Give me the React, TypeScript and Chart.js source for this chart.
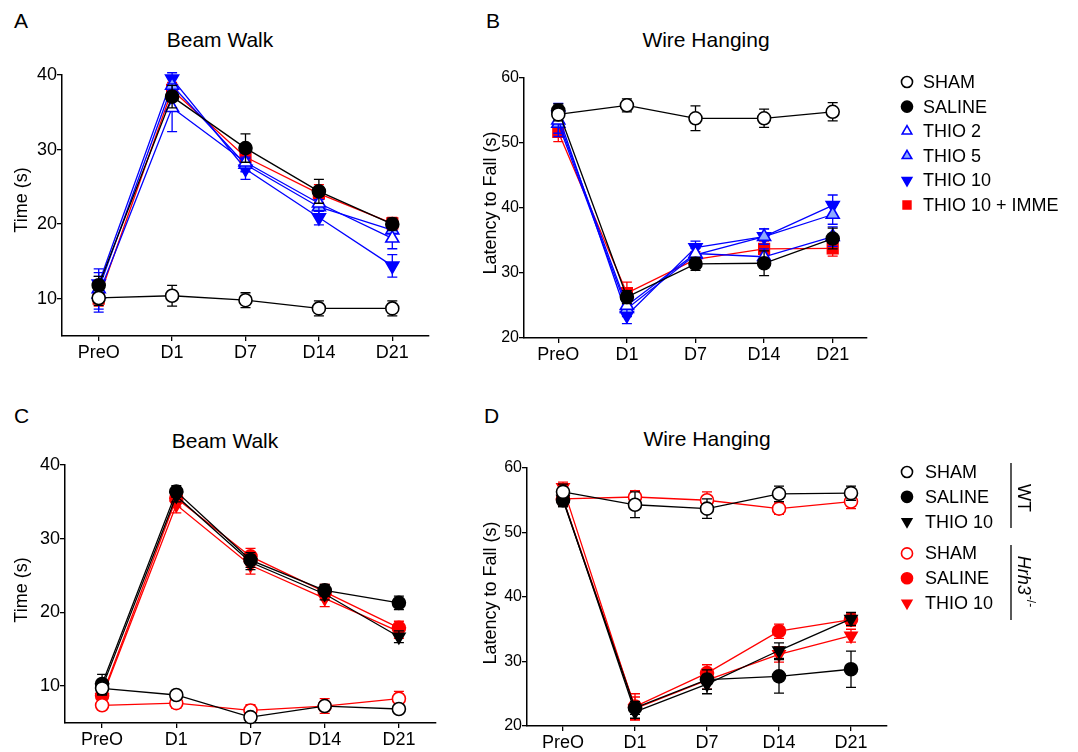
import React, { useEffect, useRef } from "react";
import { Chart, registerables } from "chart.js";

Chart.register(...registerables);

const FONT = "'Liberation Sans', Arial, Helvetica, sans-serif";
Chart.defaults.font.family = FONT;

const days = ["PreO", "D1", "D7", "D14", "D21"];
const yTicksBeam = [10, 20, 30, 40];
const yTicksWire = [20, 30, 40, 50, 60];

// Panel A — Beam Walk
const aSham = [10.1, 10.4, 9.8, 8.7, 8.7];
const aShamErr = [1.0, 1.4, 1.0, 1.0, 1.0];
const aSaline = [11.8, 37.1, 30.2, 24.4, 20.0];
const aSalineErr = [1.2, 1.5, 1.9, 1.6, 0.8];
const aThio2 = [10.6, 35.6, 28.3, 22.8, 18.1];
const aThio2Err = [2.4, 3.2, 1.2, 1.1, 1.4];
const aThio5 = [11.3, 38.6, 28.0, 22.3, 19.2];
const aThio5Err = [2.7, 1.2, 1.0, 1.0, 1.2];
const aThio10 = [12.0, 39.5, 27.4, 20.9, 14.4];
const aThio10Err = [1.5, 0.8, 1.4, 1.0, 1.5];
const aImme = [10.0, 38.0, 29.0, 24.1, 20.1];
const aImmeErr = [1.0, 1.0, 1.0, 1.2, 0.8];

// Panel B — Wire Hanging
const bSham = [54.4, 55.8, 53.8, 53.8, 54.8];
const bShamErr = [1.0, 1.0, 1.9, 1.4, 1.4];
const bSaline = [55.0, 26.3, 31.4, 31.5, 35.3];
const bSalineErr = [1.0, 1.0, 1.0, 1.9, 1.6];
const bThio2 = [53.5, 25.0, 33.0, 32.5, 35.6];
const bThio2Err = [2.0, 1.2, 1.2, 1.2, 1.5];
const bThio5 = [53.0, 24.5, 32.8, 35.6, 39.0];
const bThio5Err = [2.0, 1.2, 1.0, 1.2, 1.5];
const bThio10 = [54.3, 23.5, 33.9, 35.6, 40.4];
const bThio10Err = [1.8, 1.3, 1.0, 1.2, 1.6];
const bImme = [51.7, 26.9, 32.1, 33.7, 33.8];
const bImmeErr = [1.5, 1.7, 1.2, 1.2, 1.2];

// Panel C — Beam Walk (WT vs Hrh3-/-)
const cWtSham = [9.7, 8.8, 5.8, 7.3, 6.9];
const cWtShamErr = [0.8, 0.6, 0.5, 0.6, 0.4];
const cWtSaline = [10.3, 36.4, 27.1, 23.0, 21.3];
const cWtSalineErr = [1.3, 0.8, 1.0, 0.8, 0.9];
const cWtThio10 = [9.8, 35.8, 26.8, 22.5, 16.7];
const cWtThio10Err = [1.0, 0.8, 1.0, 0.8, 0.8];
const cKoSham = [7.4, 7.7, 6.7, 7.3, 8.3];
const cKoShamErr = [0.5, 0.7, 0.8, 1.0, 1.0];
const cKoSaline = [8.7, 35.5, 27.6, 22.8, 17.9];
const cKoSalineErr = [0.8, 1.2, 1.1, 1.0, 0.9];
const cKoThio10 = [8.5, 34.6, 26.4, 21.9, 17.4];
const cKoThio10Err = [0.8, 1.1, 1.2, 1.1, 0.9];

// Panel D — Wire Hanging (WT vs Hrh3-/-)
const dWtSham = [56.3, 54.3, 53.7, 56.0, 56.1];
const dWtShamErr = [1.2, 2.0, 1.5, 1.2, 1.1];
const dWtSaline = [55.0, 22.8, 27.2, 27.7, 28.8];
const dWtSalineErr = [1.0, 1.0, 1.5, 2.6, 2.8];
const dWtThio10 = [55.2, 22.2, 26.5, 31.7, 36.6];
const dWtThio10Err = [1.2, 1.0, 1.5, 1.2, 1.0];
const dKoSham = [55.2, 55.5, 55.0, 53.7, 54.8];
const dKoShamErr = [1.0, 1.0, 1.3, 0.9, 1.1];
const dKoSaline = [55.2, 23.0, 28.2, 34.7, 36.5];
const dKoSalineErr = [1.0, 2.0, 1.3, 1.1, 1.0];
const dKoThio10 = [57.0, 22.7, 27.1, 31.1, 34.0];
const dKoThio10Err = [0.8, 1.8, 1.4, 1.2, 1.0];

const BLACK = "#000000";
const BLUE = "#0000ff";
const RED = "#ff0000";
const LIGHTBLUE = "#8eaaff";
const WHITE = "#ffffff";

type Style = { shape: string; fill: string; stroke: string; r: number; rot?: number };

function makeDs(label: string, data: number[], err: number[], s: Style) {
  return {
    label,
    data,
    errorBars: err,
    borderColor: s.stroke,
    backgroundColor: s.fill,
    borderWidth: 1.3,
    pointStyle: s.shape,
    pointRotation: s.rot || 0,
    pointRadius: s.r,
    pointBorderWidth: 1.6,
    pointBackgroundColor: s.fill,
    pointBorderColor: s.stroke,
    fill: false,
    tension: 0,
    clip: false,
  };
}

const errorBarPlugin = {
  id: "errorBars",
  beforeDatasetDraw(chart: any, args: any) {
    const ds = chart.data.datasets[args.index];
    const errs = ds.errorBars;
    if (!errs) return;
    const ys = chart.scales.y;
    const ctx = chart.ctx;
    ctx.save();
    ctx.strokeStyle = ds.borderColor;
    ctx.lineWidth = 1.3;
    args.meta.data.forEach((pt: any, j: number) => {
      const v = ds.data[j];
      const e = errs[j];
      const x = pt.x;
      const y1 = ys.getPixelForValue(v + e);
      const y2 = ys.getPixelForValue(v - e);
      ctx.beginPath();
      ctx.moveTo(x, y1);
      ctx.lineTo(x, y2);
      ctx.moveTo(x - 5, y1);
      ctx.lineTo(x + 5, y1);
      ctx.moveTo(x - 5, y2);
      ctx.lineTo(x + 5, y2);
      ctx.stroke();
    });
    ctx.restore();
  },
};

function makeYTitlePlugin(text: string, x: number, y: number) {
  return {
    id: "yTitle",
    afterDraw(chart: any) {
      const ctx = chart.ctx;
      ctx.save();
      ctx.translate(x, y);
      ctx.rotate(-Math.PI / 2);
      ctx.font = `18px ${FONT}`;
      ctx.fillStyle = "#000";
      ctx.textAlign = "center";
      ctx.textBaseline = "middle";
      ctx.fillText(text, 0, 0);
      ctx.restore();
    },
  };
}

function drawMarker(ctx: CanvasRenderingContext2D, shape: string, x: number, y: number, r: number, fill: string, stroke: string, rot: number) {
  ctx.save();
  ctx.beginPath();
  if (shape === "circle") {
    ctx.arc(x, y, r, 0, Math.PI * 2);
  } else if (shape === "rect") {
    const s = r * Math.SQRT1_2;
    ctx.rect(x - s, y - s, 2 * s, 2 * s);
  } else if (shape === "triangle") {
    let a = (rot * Math.PI) / 180;
    for (let k = 0; k < 3; k++) {
      const px = x + Math.sin(a) * r;
      const py = y - Math.cos(a) * r;
      if (k === 0) ctx.moveTo(px, py);
      else ctx.lineTo(px, py);
      a += (2 * Math.PI) / 3;
    }
    ctx.closePath();
  }
  ctx.fillStyle = fill;
  ctx.fill();
  ctx.lineWidth = 1.6;
  ctx.strokeStyle = stroke;
  ctx.stroke();
  ctx.restore();
}

type LegendCfg = {
  markerX: number;
  textX: number;
  y0: number;
  step: number;
  gapAfter?: number;
  gap?: number;
  groups?: boolean;
};

function makeLegendPlugin(cfg: LegendCfg) {
  return {
    id: "customLegend",
    afterDraw(chart: any) {
      const ctx = chart.ctx;
      ctx.save();
      ctx.font = `18px ${FONT}`;
      ctx.fillStyle = "#000";
      ctx.textBaseline = "middle";
      ctx.textAlign = "left";
      chart.data.datasets.forEach((ds: any, i: number) => {
        const y = cfg.y0 + i * cfg.step + (cfg.gapAfter !== undefined && i > cfg.gapAfter ? cfg.gap || 0 : 0);
        drawMarker(ctx, ds.pointStyle, cfg.markerX, y, Math.min(ds.pointRadius, 6.5) * 0.85, ds.pointBackgroundColor, ds.pointBorderColor, ds.pointRotation);
        ctx.fillStyle = "#000";
        ctx.fillText(ds.label, cfg.textX, y + 1);
      });
      if (cfg.groups) {
        const lx = 541;
        ctx.strokeStyle = "#000";
        ctx.lineWidth = 1.3;
        ctx.beginPath();
        ctx.moveTo(lx, 23);
        ctx.lineTo(lx, 88);
        ctx.moveTo(lx, 105);
        ctx.lineTo(lx, 180);
        ctx.stroke();
        // WT
        ctx.save();
        ctx.translate(553, 58);
        ctx.rotate(Math.PI / 2);
        ctx.textAlign = "center";
        ctx.textBaseline = "middle";
        ctx.font = `18px ${FONT}`;
        ctx.fillText("WT", 0, 0);
        ctx.restore();
        // Hrh3-/-
        ctx.save();
        ctx.translate(553, 141);
        ctx.rotate(Math.PI / 2);
        ctx.textBaseline = "middle";
        ctx.font = `italic 18px ${FONT}`;
        const w1 = ctx.measureText("Hrh3").width;
        ctx.font = `12px ${FONT}`;
        const w2 = ctx.measureText("-/-").width;
        const start = -(w1 + w2) / 2;
        ctx.font = `italic 18px ${FONT}`;
        ctx.textAlign = "left";
        ctx.fillText("Hrh3", start, 0);
        ctx.font = `12px ${FONT}`;
        ctx.fillText("-/-", start + w1 + 1, -7);
        ctx.restore();
      }
      ctx.restore();
    },
  };
}

type Area = { left: number; right: number; top: number; bottom: number };

type PanelProps = {
  left: number;
  top: number;
  width: number;
  height: number;
  area: Area;
  yMin: number;
  yMax: number;
  yTicks: number[];
  yTickSize: number;
  yTitle: string;
  yTitleX: number;
  yTitleY: number;
  datasets: any[];
  legend?: LegendCfg;
};

function Panel(p: PanelProps) {
  const ref = useRef<HTMLCanvasElement | null>(null);
  useEffect(() => {
    if (!ref.current) return;
    const plugins: any[] = [errorBarPlugin, makeYTitlePlugin(p.yTitle, p.yTitleX, p.yTitleY)];
    if (p.legend) plugins.push(makeLegendPlugin(p.legend));
    const chart = new Chart(ref.current, {
      type: "line",
      data: { labels: days, datasets: p.datasets },
      options: {
        animation: false,
        responsive: false,
        maintainAspectRatio: false,
        events: [],
        layout: { padding: { left: 0, top: p.area.top, right: p.width - p.area.right, bottom: 0 } },
        plugins: { legend: { display: false }, tooltip: { enabled: false }, title: { display: false } },
        scales: {
          x: {
            type: "category",
            offset: true,
            grid: { display: true, drawOnChartArea: false, drawTicks: true, tickLength: 5, color: "#000", lineWidth: 1.3 },
            border: { display: true, color: "#000", width: 1.5 },
            ticks: { color: "#000", font: { size: 18, family: FONT }, padding: 1, maxRotation: 0, autoSkip: false },
            afterFit: (s: any) => {
              s.height = p.height - p.area.bottom;
            },
          },
          y: {
            type: "linear",
            min: p.yMin,
            max: p.yMax,
            afterBuildTicks: (s: any) => {
              s.ticks = p.yTicks.map((v) => ({ value: v }));
            },
            grid: { display: true, drawOnChartArea: false, drawTicks: true, tickLength: 5, color: "#000", lineWidth: 1.3 },
            border: { display: true, color: "#000", width: 1.5 },
            ticks: { color: "#000", font: { size: p.yTickSize, family: FONT }, padding: 0 },
            title: { display: false },
            afterFit: (s: any) => {
              s.width = p.area.left;
            },
          },
        },
      } as any,
      plugins,
    });
    return () => chart.destroy();
  }, []);
  return (
    <canvas
      ref={ref}
      width={p.width}
      height={p.height}
      style={{ position: "absolute", left: p.left, top: p.top, width: p.width, height: p.height, display: "block" }}
    />
  );
}

const sShamK: Style = { shape: "circle", fill: WHITE, stroke: BLACK, r: 6.5 };
const sSalK: Style = { shape: "circle", fill: BLACK, stroke: BLACK, r: 6.5 };
const sThio2: Style = { shape: "triangle", fill: WHITE, stroke: BLUE, r: 7.5 };
const sThio5: Style = { shape: "triangle", fill: LIGHTBLUE, stroke: BLUE, r: 7.5 };
const sThio10B: Style = { shape: "triangle", fill: BLUE, stroke: BLUE, r: 7.5, rot: 180 };
const sImme: Style = { shape: "rect", fill: RED, stroke: RED, r: 7.5 };
const sThio10K: Style = { shape: "triangle", fill: BLACK, stroke: BLACK, r: 7, rot: 180 };
const sShamR: Style = { shape: "circle", fill: WHITE, stroke: RED, r: 6.5 };
const sSalR: Style = { shape: "circle", fill: RED, stroke: RED, r: 6.5 };
const sThio10R: Style = { shape: "triangle", fill: RED, stroke: RED, r: 7, rot: 180 };

const textStyle: React.CSSProperties = {
  position: "absolute",
  fontFamily: FONT,
  fontSize: 21,
  lineHeight: 1,
  color: "#000",
  whiteSpace: "nowrap",
};

export default function App() {
  const dsA = [
    makeDs("SHAM", aSham, aShamErr, sShamK),
    makeDs("SALINE", aSaline, aSalineErr, sSalK),
    makeDs("THIO 2", aThio2, aThio2Err, sThio2),
    makeDs("THIO 5", aThio5, aThio5Err, sThio5),
    makeDs("THIO 10", aThio10, aThio10Err, sThio10B),
    makeDs("THIO 10 + IMME", aImme, aImmeErr, sImme),
  ];
  const dsB = [
    makeDs("SHAM", bSham, bShamErr, sShamK),
    makeDs("SALINE", bSaline, bSalineErr, sSalK),
    makeDs("THIO 2", bThio2, bThio2Err, sThio2),
    makeDs("THIO 5", bThio5, bThio5Err, sThio5),
    makeDs("THIO 10", bThio10, bThio10Err, sThio10B),
    makeDs("THIO 10 + IMME", bImme, bImmeErr, sImme),
  ];
  const dsC = [
    makeDs("SHAM", cWtSham, cWtShamErr, sShamK),
    makeDs("SALINE", cWtSaline, cWtSalineErr, sSalK),
    makeDs("THIO 10", cWtThio10, cWtThio10Err, sThio10K),
    makeDs("SHAM", cKoSham, cKoShamErr, sShamR),
    makeDs("SALINE", cKoSaline, cKoSalineErr, sSalR),
    makeDs("THIO 10", cKoThio10, cKoThio10Err, sThio10R),
  ];
  const dsD = [
    makeDs("SHAM", dWtSham, dWtShamErr, sShamK),
    makeDs("SALINE", dWtSaline, dWtSalineErr, sSalK),
    makeDs("THIO 10", dWtThio10, dWtThio10Err, sThio10K),
    makeDs("SHAM", dKoSham, dKoShamErr, sShamR),
    makeDs("SALINE", dKoSaline, dKoSalineErr, sSalR),
    makeDs("THIO 10", dKoThio10, dKoThio10Err, sThio10R),
  ];

  return (
    <div style={{ position: "absolute", left: 0, top: 0, width: 1078, height: 752, background: "#fff", overflow: "hidden" }}>
      <div style={{ ...textStyle, left: 14, top: 10 }}>A</div>
      <div style={{ ...textStyle, left: 486, top: 10 }}>B</div>
      <div style={{ ...textStyle, left: 14, top: 405 }}>C</div>
      <div style={{ ...textStyle, left: 484, top: 405 }}>D</div>
      <div style={{ ...textStyle, left: 120, width: 200, textAlign: "center", top: 29 }}>Beam Walk</div>
      <div style={{ ...textStyle, left: 606, width: 200, textAlign: "center", top: 29 }}>Wire Hanging</div>
      <div style={{ ...textStyle, left: 125, width: 200, textAlign: "center", top: 430 }}>Beam Walk</div>
      <div style={{ ...textStyle, left: 607, width: 200, textAlign: "center", top: 428 }}>Wire Hanging</div>

      <Panel
        left={0}
        top={60}
        width={440}
        height={320}
        area={{ left: 62, right: 429, top: 15, bottom: 276 }}
        yMin={5}
        yMax={40}
        yTicks={yTicksBeam}
        yTickSize={18}
        yTitle="Time (s)"
        yTitleX={22}
        yTitleY={140}
        datasets={dsA}
      />
      <Panel
        left={470}
        top={60}
        width={608}
        height={320}
        area={{ left: 54, right: 397, top: 18, bottom: 278 }}
        yMin={20}
        yMax={60}
        yTicks={yTicksWire}
        yTickSize={16}
        yTitle="Latency to Fall (s)"
        yTitleX={21}
        yTitleY={143}
        datasets={dsB}
        legend={{ markerX: 437, textX: 453, y0: 22, step: 24.6 }}
      />
      <Panel
        left={0}
        top={440}
        width={450}
        height={312}
        area={{ left: 65, right: 436, top: 25, bottom: 283 }}
        yMin={5}
        yMax={40}
        yTicks={yTicksBeam}
        yTickSize={18}
        yTitle="Time (s)"
        yTitleX={22}
        yTitleY={150}
        datasets={dsC}
      />
      <Panel
        left={470}
        top={440}
        width={608}
        height={312}
        area={{ left: 57, right: 417, top: 28, bottom: 286 }}
        yMin={20}
        yMax={60}
        yTicks={yTicksWire}
        yTickSize={16}
        yTitle="Latency to Fall (s)"
        yTitleX={21}
        yTitleY={153}
        datasets={dsD}
        legend={{ markerX: 437, textX: 455, y0: 32, step: 24.8, gapAfter: 2, gap: 7, groups: true }}
      />
    </div>
  );
}
